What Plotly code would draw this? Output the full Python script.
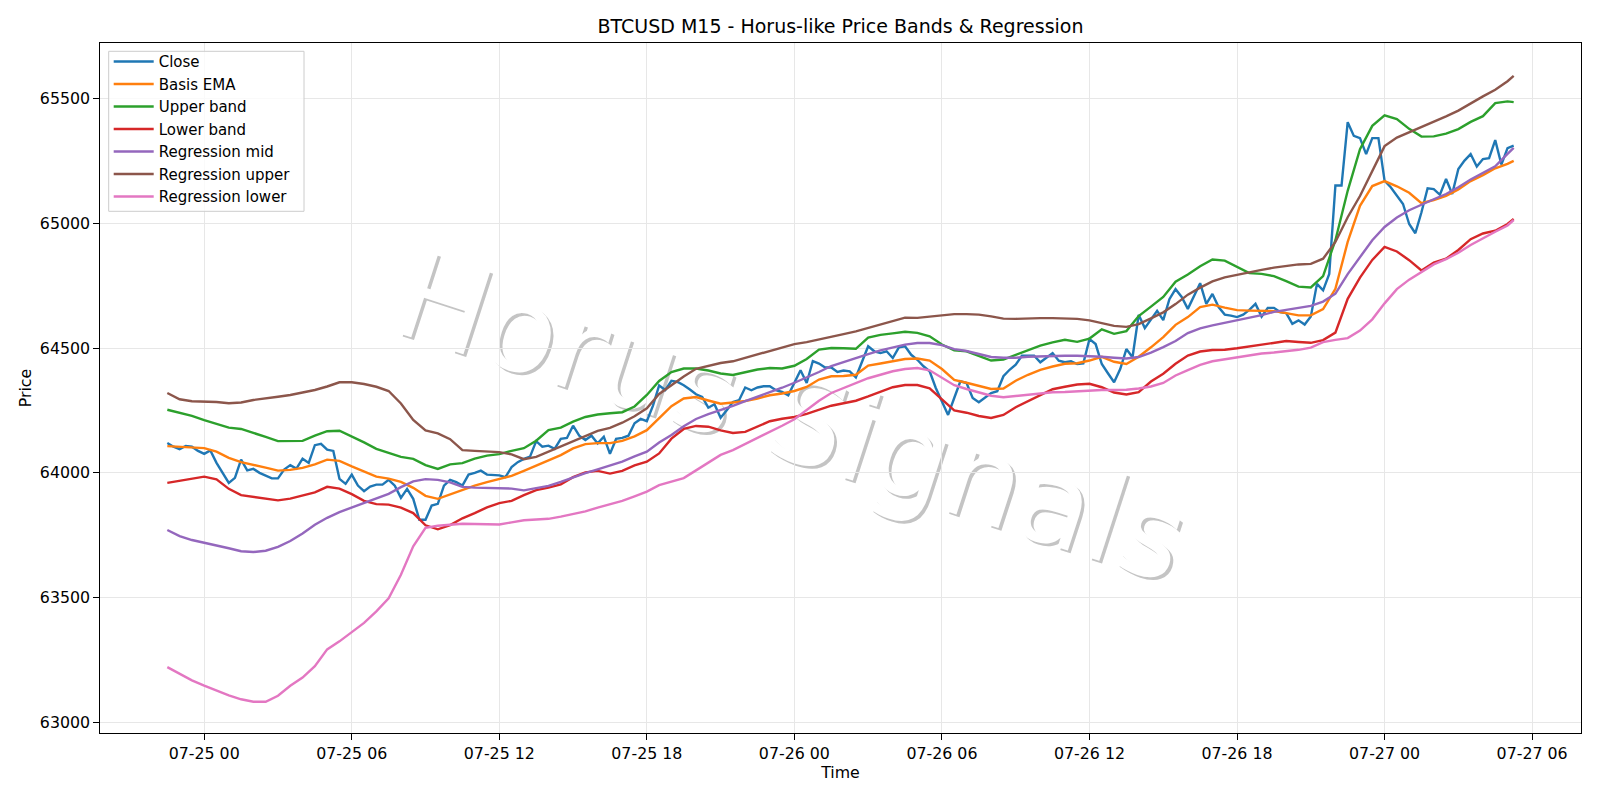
import pandas as pd
import plotly.graph_objects as go

# ---------------- data ----------------
close_times = pd.date_range("2024-07-24 22:30", periods=220, freq="15min")
close = [
    64120, 64105, 64095, 64108, 64105, 64088, 64076, 64090, 64040, 64000,
    63960, 63980, 64053, 64010, 64016, 64000, 63988, 63978, 63978, 64013,
    64031, 64017, 64057, 64040, 64111, 64116, 64093, 64088, 63976, 63956,
    63993, 63949, 63927, 63945, 63953, 63953, 63972, 63949, 63900, 63936,
    63896, 63812, 63812, 63869, 63876, 63949, 63972, 63963, 63949, 63993,
    64000, 64009, 63993, 63993, 63990, 63983, 64023, 64043, 64056, 64065,
    64127, 64105, 64109, 64096, 64136, 64140, 64189, 64149, 64132, 64149,
    64118, 64145, 64076, 64136, 64140, 64149, 64199, 64216, 64207, 64269,
    64350, 64332, 64369, 64364, 64351, 64334, 64315, 64304, 64261, 64275,
    64221, 64251, 64284, 64291, 64342, 64331, 64342, 64347, 64347, 64331,
    64324, 64311, 64364, 64411, 64360, 64448, 64438, 64422, 64422, 64404,
    64410, 64407, 64383, 64447, 64507, 64487, 64480, 64487, 64460, 64503,
    64507, 64473, 64453, 64427, 64407, 64340, 64287, 64232, 64300, 64367,
    64360, 64300, 64283, 64300, 64320, 64327, 64387, 64413, 64433, 64469,
    64469, 64469, 64443, 64463, 64480, 64449, 64443, 64447, 64436, 64439,
    64536, 64516, 64436, 64399, 64363, 64416, 64496, 64463, 64633, 64580,
    64616, 64649, 64612, 64696, 64736, 64705, 64657, 64710, 64760, 64677,
    64717, 64664, 64634, 64630, 64624, 64634, 64653, 64677, 64626, 64661,
    64661, 64644, 64640, 64597, 64611, 64594, 64626, 64757, 64731, 64797,
    65151, 65151, 65405, 65350, 65341, 65277, 65341, 65341, 65170, 65144,
    65110, 65077, 64997, 64960, 65044, 65140, 65137, 65114, 65177, 65117,
    65217, 65251, 65277, 65227, 65257, 65261, 65333, 65235, 65301, 65311,
]

band_times = list(pd.date_range("2024-07-24 22:30", periods=110, freq="30min")) + [
    pd.Timestamp("2024-07-27 05:15")
]
basis_ema = [
    64107, 64104, 64103, 64099, 64085, 64060, 64043, 64033, 64021, 64009,
    64012, 64020, 64034, 64053, 64048, 64026, 64007, 63985, 63977, 63964,
    63940, 63908, 63896, 63914, 63932, 63949, 63963, 63976, 63988, 64008,
    64030, 64049, 64071, 64098, 64115, 64119, 64119, 64128, 64146, 64171,
    64219, 64267, 64298, 64304, 64290, 64277, 64282, 64288, 64298, 64311,
    64318, 64328, 64344, 64374, 64387, 64388, 64393, 64430, 64438, 64448,
    64456, 64458, 64450, 64416, 64372, 64361, 64350, 64336, 64338, 64369,
    64393, 64413, 64426, 64437, 64439, 64450, 64465, 64445, 64436, 64465,
    64503, 64544, 64593, 64624, 64664, 64674, 64662, 64652, 64650, 64650,
    64648, 64640, 64631, 64631, 64656, 64737, 64925, 65070, 65149, 65169,
    65148, 65122, 65080, 65093, 65110, 65135, 65169, 65193, 65220, 65238,
    65250,
]
upper_band = [
    64253, 64240, 64228, 64211, 64195, 64181, 64176, 64161, 64144, 64127,
    64127, 64128, 64149, 64167, 64169, 64146, 64122, 64096, 64079, 64064,
    64056, 64031, 64016, 64034, 64039, 64057, 64069, 64075, 64088, 64099,
    64129, 64171, 64181, 64205, 64224, 64234, 64239, 64243, 64266, 64312,
    64368, 64404, 64418, 64418, 64410, 64398, 64392, 64404, 64414, 64420,
    64418, 64429, 64456, 64494, 64500, 64499, 64497, 64542, 64553, 64559,
    64565, 64561, 64547, 64514, 64491, 64487, 64468, 64450, 64454, 64472,
    64493, 64510, 64523, 64533, 64525, 64538, 64575, 64557, 64568, 64628,
    64666, 64705, 64766, 64795, 64828, 64855, 64850, 64824, 64800, 64797,
    64788, 64768, 64746, 64743, 64788, 64932, 65130, 65297, 65390, 65432,
    65417, 65378, 65347, 65348, 65359, 65377, 65406, 65429, 65481, 65488,
    65485,
]
lower_band = [
    63960, 63969, 63979, 63985, 63974, 63936, 63911, 63905, 63899, 63890,
    63897, 63909, 63922, 63944, 63937, 63915, 63888, 63875, 63873, 63861,
    63839, 63790, 63774, 63791, 63818, 63839, 63862, 63879, 63888, 63911,
    63931, 63941, 63954, 63983, 64002, 64008, 63997, 64008, 64030, 64045,
    64078, 64137, 64176, 64188, 64185, 64170, 64160, 64164, 64185, 64207,
    64217, 64224, 64236, 64252, 64269, 64279, 64289, 64306, 64325, 64343,
    64352, 64352, 64339, 64296, 64250, 64241, 64228, 64220, 64232, 64263,
    64286, 64311, 64335, 64345, 64354, 64357, 64343, 64322, 64314, 64323,
    64366, 64397, 64437, 64470, 64486, 64492, 64493, 64499, 64506, 64512,
    64518, 64528, 64524, 64521, 64532, 64562, 64697, 64782, 64853, 64905,
    64887, 64852, 64811, 64842, 64858, 64893, 64936, 64959, 64970, 64997,
    65017,
]
reg_mid = [
    63771, 63747, 63731, 63721, 63710, 63698, 63686, 63683, 63688, 63704,
    63727, 63757, 63792, 63820, 63843, 63861, 63877, 63895, 63916, 63943,
    63966, 63975, 63972, 63962, 63944, 63941, 63939, 63938, 63937, 63930,
    63939, 63948, 63964, 63982, 63999, 64014, 64028, 64045, 64066, 64085,
    64122, 64152, 64187, 64216, 64235, 64250, 64268, 64287, 64304, 64322,
    64341, 64361, 64382, 64404, 64428, 64445, 64460, 64476, 64491, 64504,
    64514, 64520, 64520, 64512, 64496, 64488, 64476, 64464, 64461, 64461,
    64465, 64467, 64469, 64469, 64469, 64468, 64465, 64461, 64458, 64464,
    64482, 64504, 64528, 64560, 64579, 64591, 64601, 64611, 64620, 64632,
    64645, 64653, 64660, 64669, 64686, 64718, 64796, 64863, 64932, 64985,
    65023, 65052, 65075, 65096, 65117, 65144, 65175, 65202, 65228, 65278,
    65302,
]
reg_upper = [
    64320, 64295, 64287, 64287, 64284, 64279, 64282, 64292, 64300, 64305,
    64312, 64322, 64332, 64346, 64363, 64363, 64356, 64345, 64328, 64278,
    64212, 64170, 64158, 64135, 64091, 64088, 64086, 64083, 64074, 64055,
    64064, 64085, 64108, 64129, 64149, 64168, 64180, 64201, 64227, 64259,
    64316, 64351, 64386, 64417, 64430, 64440, 64447, 64461, 64477, 64491,
    64503, 64516, 64524, 64534, 64543, 64556, 64567, 64580, 64594, 64609,
    64622, 64621, 64625, 64632, 64636, 64636, 64634, 64627, 64618, 64617,
    64620, 64620, 64620, 64619, 64617, 64611, 64600, 64589, 64585, 64596,
    64619, 64643, 64676, 64714, 64742, 64767, 64783, 64794, 64803, 64813,
    64822, 64829, 64835, 64837, 64858, 64925, 65024, 65109, 65212, 65309,
    65343, 65364, 65384, 65404, 65428, 65451, 65481, 65508, 65535, 65569,
    65590,
]
reg_lower = [
    63222, 63194, 63169, 63148, 63128, 63109, 63093, 63083, 63083, 63107,
    63147, 63180, 63226, 63293, 63325, 63362, 63399, 63445, 63498, 63592,
    63706, 63780, 63788, 63792, 63796, 63795, 63794, 63793, 63802, 63810,
    63813, 63816, 63825, 63835, 63846, 63861, 63873, 63888, 63906, 63925,
    63951, 63965, 63979, 64010, 64042, 64072, 64091, 64115, 64140, 64164,
    64189, 64215, 64252, 64289, 64320, 64339, 64358, 64379, 64393, 64407,
    64416, 64420, 64411, 64380, 64351, 64336, 64323, 64309, 64303, 64308,
    64314, 64321, 64323, 64324, 64327, 64332, 64332, 64332, 64333, 64338,
    64346, 64360, 64390, 64412, 64433, 64447, 64455, 64462, 64470, 64478,
    64482, 64487, 64493, 64502, 64524, 64533, 64540, 64570, 64615, 64679,
    64736, 64774, 64806, 64835, 64856, 64882, 64913, 64941, 64966, 64991,
    65013,
]

x_tick_vals = [
    "2024-07-25 00:00", "2024-07-25 06:00", "2024-07-25 12:00", "2024-07-25 18:00",
    "2024-07-26 00:00", "2024-07-26 06:00", "2024-07-26 12:00", "2024-07-26 18:00",
    "2024-07-27 00:00", "2024-07-27 06:00",
]
y_tick_vals = [63000, 63500, 64000, 64500, 65000, 65500]

title_text = "BTCUSD M15 - Horus-like Price Bands & Regression"
watermark_text = "Horus Signals"

# ---------------- figure ----------------
FONT = "DejaVu Sans"
LW = 2.4
FS = 15.8

series = [
    ("Close", close_times, close, "#1f77b4"),
    ("Basis EMA", band_times, basis_ema, "#ff7f0e"),
    ("Upper band", band_times, upper_band, "#2ca02c"),
    ("Lower band", band_times, lower_band, "#d62728"),
    ("Regression mid", band_times, reg_mid, "#9467bd"),
    ("Regression upper", band_times, reg_upper, "#8c564b"),
    ("Regression lower", band_times, reg_lower, "#e377c2"),
]

fig = go.Figure()
for name, xs, ys, col in series:
    fig.add_trace(go.Scatter(
        x=xs, y=ys, mode="lines", name=name,
        line=dict(color=col, width=LW),
    ))

# plot-area pixel helpers (plot area: x 100..1581, y 42.7..732.7)
def px_x(p):
    return (p - 100.0) / 1481.0

def px_y(p):
    return (732.7 - p) / 690.0

# watermark: white text with a soft grey drop shadow, below the data
cx, cy = 0.469, 0.47
for dx, dy, col in [(0.0019, -0.0040, "rgb(196,196,196)"), (0.0, 0.0, "white")]:
    fig.add_shape(
        type="rect", xref="paper", yref="paper",
        x0=cx - 0.01 + dx, x1=cx + 0.01 + dx, y0=cy - 0.01 + dy, y1=cy + 0.01 + dy,
        line=dict(width=0), fillcolor="rgba(0,0,0,0)", layer="below",
        label=dict(text=watermark_text, textangle=18, textposition="middle center",
                   font=dict(family=FONT, size=120, color=col)),
    )

# legend frame (matplotlib-style box), drawn above the data, under the legend entries
fig.add_shape(
    type="rect", xref="paper", yref="paper",
    x0=px_x(108.7), x1=px_x(304), y0=px_y(211), y1=px_y(51),
    line=dict(color="#cccccc", width=1), fillcolor="rgba(255,255,255,0.8)", layer="above",
)

axis_common = dict(
    showgrid=True, gridcolor="#e7e7e7", gridwidth=1.25,
    showline=True, mirror=True, linecolor="black", linewidth=1.25,
    ticks="outside", ticklen=5.6, tickwidth=1.25, tickcolor="black",
    zeroline=False, tickfont=dict(family=FONT, size=FS, color="black"),
)

fig.update_layout(
    width=1600, height=800,
    margin=dict(l=100, r=19, t=43, b=67),
    paper_bgcolor="white", plot_bgcolor="white",
    font=dict(family=FONT, size=FS, color="black"),
    title=dict(text=title_text, x=0.5, xref="paper", xanchor="center",
               y=1 - 26.5 / 800, yref="container", yanchor="middle",
               font=dict(family=FONT, size=19, color="black")),
    showlegend=True,
    legend=dict(x=px_x(108.7), y=px_y(45.0), xanchor="left", yanchor="top",
                bgcolor="rgba(0,0,0,0)", borderwidth=0, itemwidth=40,
                font=dict(family=FONT, size=15, color="black"),
                traceorder="normal"),
    xaxis=dict(type="date",
               range=["2024-07-24 19:45:45", "2024-07-27 07:59:15"],
               tickvals=x_tick_vals, tickformat="%m-%d %H",
               title=dict(text="Time", font=dict(family=FONT, size=FS), standoff=2),
               **axis_common),
    yaxis=dict(range=[62958, 65722], tickvals=y_tick_vals, tickformat="d",
               title=dict(text="Price", font=dict(family=FONT, size=FS), standoff=4),
               **axis_common),
)

fig.write_html("out.html")
